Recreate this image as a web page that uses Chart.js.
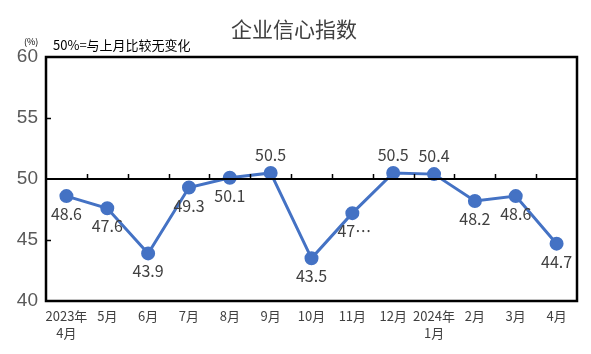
<!DOCTYPE html>
<html><head><meta charset="utf-8">
<script src="https://cdn.jsdelivr.net/npm/chart.js@4"></script>
<style>html,body{margin:0;padding:0;background:#fff}#wrap{width:591px;height:354px}</style>
</head><body><div id="wrap"><canvas id="c" width="591" height="354"></canvas></div>
<script>
const categories = [["2023年","4月"],"5月","6月","7月","8月","9月","10月","11月","12月",["2024年","1月"],"2月","3月","4月"];
const confidence = [48.6,47.6,43.9,49.3,50.1,50.5,43.5,47.2,50.5,50.4,48.2,48.6,44.7];
const pointLabels = ["48.6","47.6","43.9","49.3","50.1","50.5","43.5","47…","50.5","50.4","48.2","48.6","44.7"];
const yTicks = [40,45,50,55,60];
const title = "企业信心指数";
const note = "50%=与上月比较无变化";
const unit = "(%)";

const FONT = "'Noto Sans CJK SC', 'Noto Sans', sans-serif";

const decor = {
  id:'decor',
  afterDraw(chart){
    const {ctx, chartArea:a, scales:{x,y}} = chart;
    ctx.save();
    const y50 = y.getPixelForValue(50);
    ctx.strokeStyle='#000';
    ctx.lineWidth=1.5;
    ctx.beginPath();
    for(let i=1;i<categories.length;i++){
      const px = Math.round((x.getPixelForValue(i-1)+x.getPixelForValue(i))/2)+0.5;
      ctx.moveTo(px,y50); ctx.lineTo(px,y50-5);
    }
    [45,55].forEach(v=>{const py=Math.round(y.getPixelForValue(v))+0.5;ctx.moveTo(a.left,py);ctx.lineTo(a.left+5,py);});
    ctx.stroke();
    ctx.lineWidth=2;
    ctx.beginPath(); ctx.moveTo(a.left,y50); ctx.lineTo(a.right,y50); ctx.stroke();
    ctx.lineWidth=2.5;
    ctx.strokeRect(a.left,a.top,a.right-a.left,a.bottom-a.top);
    ctx.fillStyle='#404040';
    ctx.font="21px "+FONT; ctx.textAlign='center'; ctx.textBaseline='middle';
    ctx.fillText(title,294,29);
    ctx.fillStyle='#000';
    ctx.font="9px "+FONT; ctx.textBaseline='middle'; ctx.textAlign='left';
    ctx.fillText(unit,24,42);
    ctx.font="13px "+FONT;
    ctx.fillText(note,53,45);
    ctx.restore();
  },
  afterDatasetsDraw(chart){
    const {ctx} = chart;
    const meta = chart.getDatasetMeta(0);
    ctx.save();
    ctx.font="16px "+FONT; ctx.fillStyle='#404040'; ctx.textAlign='center'; ctx.textBaseline='middle';
    meta.data.forEach((p,i)=>{
      const above = confidence[i] > 50.2;
      ctx.fillText(pointLabels[i], p.x + (pointLabels[i].includes('…')?2:0), p.y + (above?-18:18));
    });
    ctx.restore();
  }
};

new Chart(document.getElementById('c'),{
  type:'line',
  data:{labels:categories,datasets:[{data:confidence,borderColor:'#4472C4',backgroundColor:'#4472C4',borderWidth:3,pointRadius:5.5,pointHoverRadius:5.5,pointBackgroundColor:'#4472C4',pointBorderColor:'#4472C4',tension:0}]},
  options:{
    responsive:false,animation:false,
    layout:{padding:{left:0,right:14,top:57,bottom:0}},
    plugins:{legend:{display:false},tooltip:{enabled:false},title:{display:false}},
    scales:{
      x:{offset:true,grid:{display:false},border:{display:false},
         afterFit(s){s.height=53;},
         ticks:{color:'#404040',font:{family:FONT,size:13,lineHeight:1.3},padding:-1,maxRotation:0,autoSkip:false}},
      y:{min:40,max:60,afterBuildTicks(s){s.ticks=yTicks.map(v=>({value:v}));},
         grid:{display:false},border:{display:false},
         afterFit(s){s.width=46;},
         ticks:{color:'#595959',font:{family:'Liberation Sans, Arial, sans-serif',size:19},padding:0}}
    }
  },
  plugins:[decor]
});
</script></body></html>
